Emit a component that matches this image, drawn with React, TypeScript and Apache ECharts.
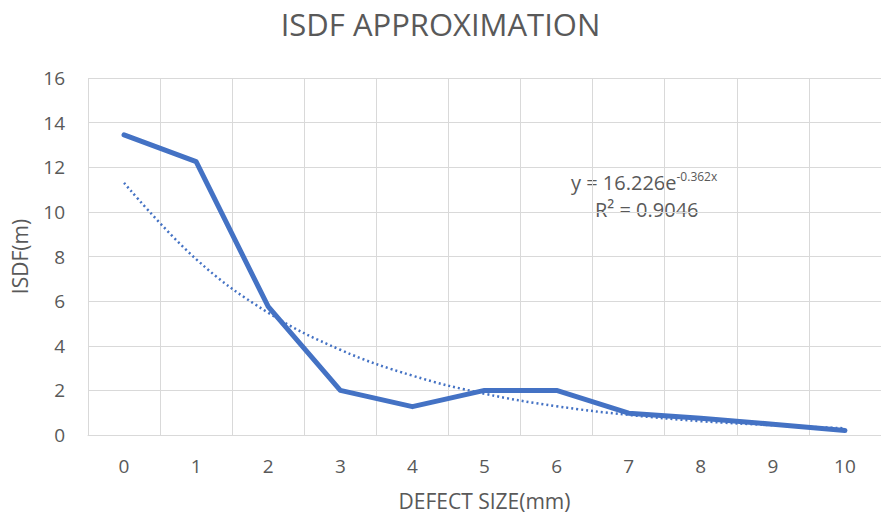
import React, { useEffect, useRef } from "react";
import * as echarts from "echarts";

const categories = ["0", "1", "2", "3", "4", "5", "6", "7", "8", "9", "10"];
const isdfValues = [13.45, 12.25, 5.75, 2.0, 1.27, 2.0, 2.0, 0.98, 0.75, 0.48, 0.2];
const trendValues = [11.3, 7.88, 5.48, 3.82, 2.66, 1.85, 1.29, 0.9, 0.62, 0.44, 0.3];
const yTicks = { min: 0, max: 16, interval: 2 };
const titleText = "ISDF APPROXIMATION";
const xTitle = "DEFECT SIZE(mm)";
const yTitle = "ISDF(m)";
const equationMain = "y = 16.226e";
const equationExp = "-0.362x";
const rSquared = "R² = 0.9046";

const FONT = "'Open Sans', 'Noto Sans', sans-serif";
const GREY = "#595959";
const BLUE = "#4472C4";

export default function App() {
  const ref = useRef<HTMLDivElement>(null);
  useEffect(() => {
    if (!ref.current) return;
    const chart = echarts.init(ref.current, null, { renderer: "svg" });
    chart.setOption({
      animation: false,
      backgroundColor: "#ffffff",
      title: {
        text: titleText,
        left: "center",
        top: 3,
        textStyle: { fontFamily: FONT, fontSize: 31, fontWeight: "normal", color: GREY },
      },
      grid: { left: 88, right: -11, top: 78, bottom: 84 },
      xAxis: {
        type: "category",
        data: categories,
        boundaryGap: true,
        name: xTitle,
        nameLocation: "middle",
        nameGap: 55,
        nameTextStyle: { fontFamily: FONT, fontSize: 21, color: GREY },
        axisLine: { show: true, lineStyle: { color: "#d9d9d9" } },
        axisTick: { show: false },
        axisLabel: { fontFamily: FONT, fontSize: 19, color: GREY, margin: 21 },
        splitLine: { show: true, lineStyle: { color: "#d9d9d9", width: 1 } },
      },
      yAxis: {
        type: "value",
        min: yTicks.min,
        max: yTicks.max,
        interval: yTicks.interval,
        name: yTitle,
        nameLocation: "middle",
        nameGap: 58,
        nameRotate: 90,
        nameTextStyle: { fontFamily: FONT, fontSize: 21, color: GREY },
        axisLine: { show: false },
        axisTick: { show: false },
        axisLabel: { fontFamily: FONT, fontSize: 19, color: GREY, margin: 23 },
        splitLine: { show: true, lineStyle: { color: "#d9d9d9", width: 1 } },
      },
      series: [
        {
          name: "ISDF",
          type: "line",
          data: isdfValues,
          symbol: "none",
          lineStyle: { color: BLUE, width: 5, cap: "round", join: "round" },
          z: 3,
        },
        {
          name: "Trend",
          type: "line",
          data: trendValues,
          symbol: "none",
          smooth: 0.4,
          lineStyle: { color: BLUE, width: 2.5, type: [2, 3] },
          z: 2,
        },
      ],
      graphic: [
        {
          type: "text",
          left: 571,
          top: 170,
          style: {
            text: `{m|${equationMain}}{s|${equationExp}}`,
            rich: {
              m: { fontFamily: FONT, fontSize: 20, fill: GREY },
              s: { fontFamily: FONT, fontSize: 12, fill: GREY, verticalAlign: "top", padding: [0, 0, 12, 0] },
            },
          },
        },
        {
          type: "text",
          left: 595,
          top: 199,
          style: { text: rSquared, fontFamily: FONT, fontSize: 20, fill: GREY },
        },
      ],
    });
    return () => chart.dispose();
  }, []);
  return (
    <div
      ref={ref}
      style={{ position: "fixed", left: 0, top: 0, width: 881, height: 519, background: "#fff" }}
    />
  );
}
